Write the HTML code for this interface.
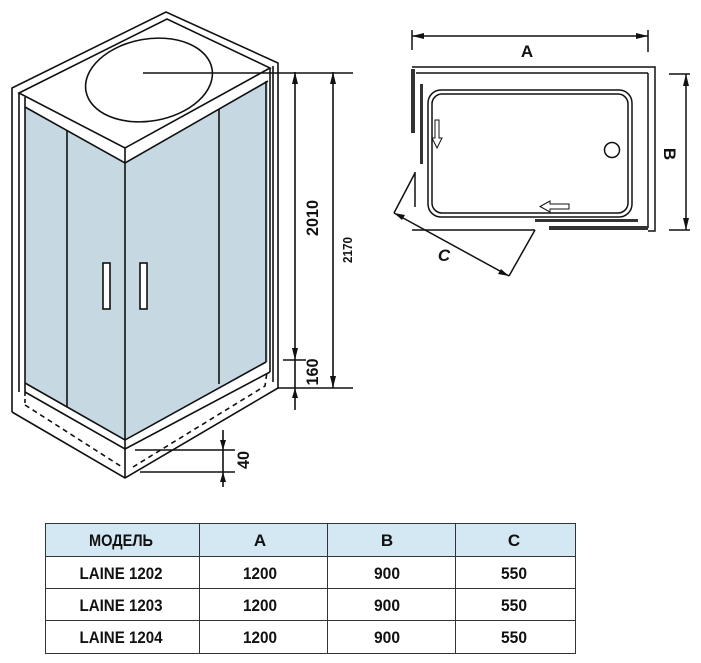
<!DOCTYPE html>
<html><head><meta charset="utf-8"><style>
html,body{margin:0;padding:0;background:#fff;}
svg{display:block}
text{font-family:"Liberation Sans Narrow","Liberation Sans",sans-serif;font-weight:bold;fill:#111}
</style></head><body>
<svg width="701" height="663" viewBox="0 0 701 663" xmlns="http://www.w3.org/2000/svg">
<g stroke="#111" stroke-width="1.6" fill="none" stroke-linejoin="miter">
<polygon points="25,107 125,163 125,440 25,383" fill="#c6d9e2" stroke="none"/>
<polygon points="125,163 268,81 268,362 125,440" fill="#c6d9e2" stroke="none"/>
<polyline points="12,412 12,88 166,12 278,63 278,388"/>
<polyline points="12,412 125,478 278,388"/>
<polygon points="19,93 167,19 270,68 125,148" fill="#fff"/>
<ellipse cx="149" cy="80" rx="64" ry="41" transform="rotate(-10 149 80)"/>
<line x1="143" y1="73" x2="353" y2="73"/>
<line x1="19" y1="93" x2="19" y2="392"/>
<line x1="25" y1="97" x2="25" y2="392"/>
<polyline points="25,107 125,163 268,81"/>
<line x1="270" y1="68" x2="270" y2="372"/>
<line x1="273" y1="66" x2="273" y2="382"/>
<line x1="266" y1="81" x2="266" y2="362"/>
<line x1="125" y1="148" x2="125" y2="478"/>
<line x1="67" y1="131" x2="67" y2="407"/>
<line x1="219" y1="109" x2="219" y2="384"/>
<rect x="103" y="263" width="7" height="46" fill="#fff"/>
<rect x="140" y="263" width="7" height="46" fill="#fff"/>
<polyline points="25,383 125,440 266,362"/>
<polyline points="25,392 125,449 270,372"/>
<polyline points="25,405 122,467" stroke-dasharray="5,4"/>
<polyline points="133,467 265,386 267,372" stroke-dasharray="5,4"/>
<line x1="25" y1="392" x2="25" y2="405" stroke-dasharray="4,3"/>
<line x1="295" y1="72" x2="295" y2="410"/>
<line x1="333" y1="72" x2="333" y2="388"/>
<line x1="277" y1="388" x2="353" y2="388"/>
<line x1="283" y1="360" x2="306" y2="360"/>
<line x1="135" y1="450" x2="235" y2="450"/>
<line x1="140" y1="472" x2="235" y2="472"/>
<line x1="223" y1="430" x2="223" y2="487"/>
</g>
<g fill="#111">
<polygon points="295,72 292,84 298,84"/><polygon points="295,360 292,348 298,348"/>
<polygon points="295,388 292,398 298,398"/>
<polygon points="333,72 330,84 336,84"/><polygon points="333,388 330,376 336,376"/>
<polygon points="223,450 220,440 226,440"/><polygon points="223,472 220,482 226,482"/>
</g>
<text transform="translate(318,218) rotate(-90)" font-size="17" text-anchor="middle" textLength="36" lengthAdjust="spacingAndGlyphs">2010</text>
<text transform="translate(318,372) rotate(-90)" font-size="17" text-anchor="middle" textLength="27" lengthAdjust="spacingAndGlyphs">160</text>
<text transform="translate(352,250) rotate(-90)" font-size="13" text-anchor="middle" textLength="26" lengthAdjust="spacingAndGlyphs">2170</text>
<text transform="translate(249,460) rotate(-90)" font-size="17" text-anchor="middle" textLength="18" lengthAdjust="spacingAndGlyphs">40</text>

<g stroke="#111" stroke-width="1.5" fill="none">
<line x1="412" y1="36" x2="648" y2="36"/>
<line x1="412" y1="30" x2="412" y2="50"/>
<line x1="648" y1="30" x2="648" y2="52"/>
<polyline points="412,67 655,67 655,231 648,231"/>
<line x1="416" y1="73" x2="648" y2="73"/>
<line x1="648" y1="73" x2="648" y2="228"/>
<line x1="412" y1="230" x2="535" y2="230"/>
<rect x="428" y="90" width="204" height="127" rx="13"/>
<rect x="432" y="94" width="196" height="119" rx="10"/>
<circle cx="612" cy="150" r="7.5"/>
<line x1="415" y1="172" x2="415" y2="207"/>
<line x1="394" y1="213" x2="415" y2="173"/>
<line x1="394" y1="213" x2="509" y2="276"/>
<line x1="509" y1="276" x2="535" y2="230"/>
<line x1="669" y1="74" x2="690" y2="74"/>
<line x1="669" y1="230" x2="690" y2="230"/>
<line x1="686" y1="74" x2="686" y2="230"/>
<polygon points="435,120 439,120 439,138 442,138 437,148 432,138 435,138" stroke-width="1"/>
<polygon points="569,204 569,209 550,209 550,212 540,206.5 550,201 550,204" stroke-width="1"/>
</g>
<g fill="#333">
<rect x="411" y="69" width="4" height="64"/>
<rect x="420" y="84" width="3" height="80"/>
<rect x="535" y="219" width="103" height="3"/>
<rect x="549" y="226" width="99" height="4"/>
</g>
<g fill="#111">
<polygon points="412,36 424,33 424,39"/><polygon points="648,36 636,33 636,39"/>
<polygon points="686,74 683,86 689,86"/><polygon points="686,230 683,218 689,218"/>
<polygon points="394,213 405,215 402,220"/><polygon points="509,276 498,274 501,269"/>
</g>
<text x="527" y="57" font-size="17" text-anchor="middle">A</text>
<text transform="translate(664,154) rotate(90)" font-size="17" text-anchor="middle">B</text>
<text x="444" y="261" font-size="17" text-anchor="middle" font-style="italic">C</text>

<rect x="45" y="523" width="530" height="33" fill="#d4e8f4"/>
<g stroke="#333" stroke-width="1" fill="none">
<rect x="45.5" y="523.5" width="530" height="130"/>
<line x1="45" y1="556.5" x2="575" y2="556.5"/>
<line x1="45" y1="588.5" x2="575" y2="588.5"/>
<line x1="45" y1="620.5" x2="575" y2="620.5"/>
<line x1="199.5" y1="523" x2="199.5" y2="653"/>
<line x1="327.5" y1="523" x2="327.5" y2="653"/>
<line x1="455.5" y1="523" x2="455.5" y2="653"/>
</g>
<g font-size="17" text-anchor="middle" lengthAdjust="spacingAndGlyphs">
<text x="121" y="546" textLength="64" lengthAdjust="spacingAndGlyphs">МОДЕЛЬ</text><text x="260" y="546">A</text><text x="387" y="546">B</text><text x="514" y="546">C</text>
<text x="121" y="579" textLength="83" lengthAdjust="spacingAndGlyphs">LAINE 1202</text><text x="260" y="579" textLength="34" lengthAdjust="spacingAndGlyphs">1200</text><text x="387" y="579" textLength="26" lengthAdjust="spacingAndGlyphs">900</text><text x="514" y="579" textLength="26" lengthAdjust="spacingAndGlyphs">550</text>
<text x="121" y="611" textLength="83" lengthAdjust="spacingAndGlyphs">LAINE 1203</text><text x="260" y="611" textLength="34" lengthAdjust="spacingAndGlyphs">1200</text><text x="387" y="611" textLength="26" lengthAdjust="spacingAndGlyphs">900</text><text x="514" y="611" textLength="26" lengthAdjust="spacingAndGlyphs">550</text>
<text x="121" y="643" textLength="83" lengthAdjust="spacingAndGlyphs">LAINE 1204</text><text x="260" y="643" textLength="34" lengthAdjust="spacingAndGlyphs">1200</text><text x="387" y="643" textLength="26" lengthAdjust="spacingAndGlyphs">900</text><text x="514" y="643" textLength="26" lengthAdjust="spacingAndGlyphs">550</text>
</g>
</svg>
</body></html>
